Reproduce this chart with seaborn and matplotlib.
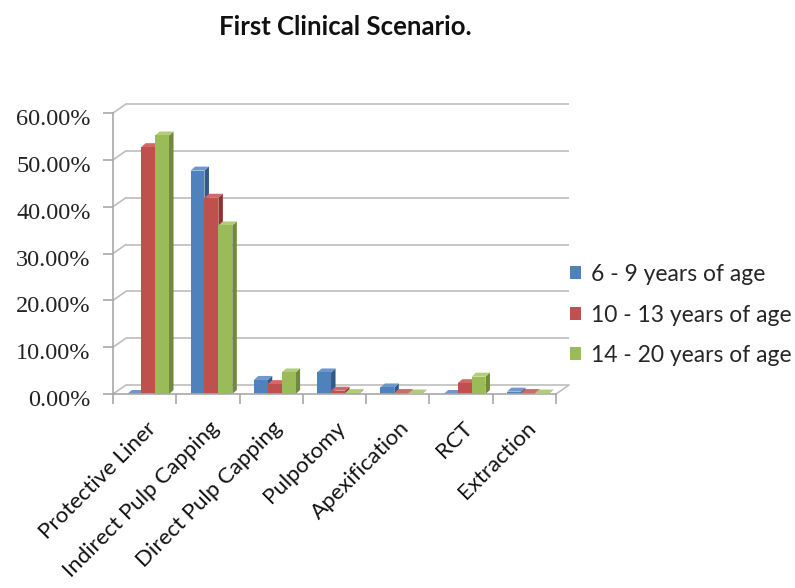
import numpy as np
import pandas as pd
import matplotlib
matplotlib.use("Agg")
import matplotlib.pyplot as plt
from matplotlib.patches import Polygon
from matplotlib.transforms import ScaledTranslation
import seaborn as sns

# Treatment choices by age group (percent of respondents)
treatments = ["Protective Liner", "Indirect Pulp Capping", "Direct Pulp Capping",
              "Pulpotomy", "Apexification", "RCT", "Extraction"]
age_groups = ["6 - 9 years of age", "10 - 13 years of age", "14 - 20 years of age"]
age_6_9 = [0.0, 47.7, 3.0, 4.6, 1.4, 0.0, 0.5]
age_10_13 = [52.7, 41.9, 2.1, 0.7, 0.2, 2.3, 0.2]
age_14_20 = [55.2, 36.0, 4.6, 0.2, 0.1, 3.7, 0.1]
y_ticks = [0, 10, 20, 30, 40, 50, 60]

front_colors = ["#4F81BD", "#C0504D", "#9BBB59"]
side_colors = ["#31598A", "#8E3431", "#6E8A3A"]
top_colors = ["#6E98CC", "#D06A67", "#B2CC78"]
grid_color = "#BEBEBE"
axis_color = "#A8A8A8"

df = pd.DataFrame({
    "Treatment": treatments * 3,
    "Percent": age_6_9 + age_10_13 + age_14_20,
    "Age group": [g for g in age_groups for _ in treatments],
})

sns.set_theme(style="white")
plt.rcParams["font.family"] = ["Lato", "DejaVu Sans"]

W, H = 795, 588
fig = plt.figure(figsize=(W / 100, H / 100), dpi=100)
# plot area in pixels (front plane)
x_left, x_right, y_top, y_base = 113, 556, 113, 394
ax = fig.add_axes([x_left / W, 1 - y_base / H, (x_right - x_left) / W, (y_base - y_top) / H])

sns.barplot(data=df, x="Treatment", y="Percent", hue="Age group", palette=front_colors,
            hue_order=age_groups, order=treatments, width=0.66, saturation=1,
            errorbar=None, ax=ax, linewidth=0, legend=True)

n_cat = len(treatments)
ax.set_xlim(-0.5, n_cat - 0.5)
ax.set_ylim(0, 60)

px_x = n_cat / (x_right - x_left)     # data units per pixel
px_y = 60 / (y_base - y_top)

# depth of the back wall and of each column
wall_dx, wall_dy = 13 * px_x, 9 * px_y
bar_dx, bar_dy = 4.5 * px_x, 4 * px_y
shift = 3.5 * px_x

# back wall gridlines, left wall diagonals and floor
x0, x1 = -0.5, n_cat - 0.5
for v in y_ticks:
    ax.plot([x0 + wall_dx, x1 + wall_dx], [v + wall_dy, v + wall_dy], color=grid_color,
            lw=1.2, clip_on=False, zorder=0.5, solid_capstyle="butt")
    ax.plot([x0, x0 + wall_dx], [v, v + wall_dy], color=grid_color, lw=1.2,
            clip_on=False, zorder=0.5)
ax.plot([x1, x1 + wall_dx], [0, wall_dy], color=grid_color, lw=1.2, clip_on=False, zorder=0.5)

# 3D faces on each column
for i, patch in enumerate(ax.patches[:3 * n_cat]):
    hue_idx = i // n_cat
    z = 2 + hue_idx * 0.3
    xb = patch.get_x() + shift
    w = patch.get_width()
    h = patch.get_height()
    patch.set_x(xb)
    patch.set_zorder(z)
    side = Polygon([(xb + w, 0), (xb + w, h), (xb + w + bar_dx, h + bar_dy), (xb + w + bar_dx, bar_dy)],
                   closed=True, facecolor=side_colors[hue_idx], edgecolor="none", zorder=z - 0.1,
                   clip_on=False)
    top = Polygon([(xb, h), (xb + w, h), (xb + w + bar_dx, h + bar_dy), (xb + bar_dx, h + bar_dy)],
                  closed=True, facecolor=top_colors[hue_idx], edgecolor="none", zorder=z - 0.05,
                  clip_on=False)
    ax.add_patch(side)
    ax.add_patch(top)

# axes: front left axis and front floor edge
for s in ["top", "right"]:
    ax.spines[s].set_visible(False)
for s in ["left", "bottom"]:
    ax.spines[s].set_color(axis_color)
    ax.spines[s].set_linewidth(1.2)

ax.set_yticks(y_ticks)
ax.set_yticklabels([f"{v:.2f}%" for v in y_ticks], fontfamily="Liberation Serif",
                   fontsize=17.5, color="#222222")
ax.tick_params(axis="y", length=7, width=1.2, color=axis_color, pad=9, left=True)
down = ScaledTranslation(0, -0.04, fig.dpi_scale_trans)
for lbl in ax.get_yticklabels():
    lbl.set_transform(lbl.get_transform() + down)

ax.set_xticks(np.arange(-0.5, n_cat, 1.0), minor=True)
ax.tick_params(axis="x", which="minor", length=7, width=1.2, color=axis_color, bottom=True)
ax.set_xticks(range(n_cat))
ax.set_xticklabels([])
ax.tick_params(axis="x", which="major", length=0)
ax.set_xlabel("")
ax.set_ylabel("")

for i, name in enumerate(treatments):
    ax.text(i + 1 * px_x, -24 * px_y, name, rotation=45, rotation_mode="anchor",
            ha="right", va="top", fontsize=16, color="#111111", clip_on=False)

handles, labels = ax.get_legend_handles_labels()
ax.legend(handles, labels, loc="center left", bbox_to_anchor=(570 / W, 1 - 315 / H),
          bbox_transform=fig.transFigure, frameon=False, fontsize=16.5,
          handlelength=0.5, handleheight=0.5, handletextpad=0.4, labelspacing=0.85,
          borderpad=0, borderaxespad=0)

fig.text(345 / W, 1 - 27 / H, "First Clinical Scenario.", ha="center", va="center",
         fontsize=18.5, fontweight="bold", color="#111111")

fig.savefig("out.png", dpi=100)
